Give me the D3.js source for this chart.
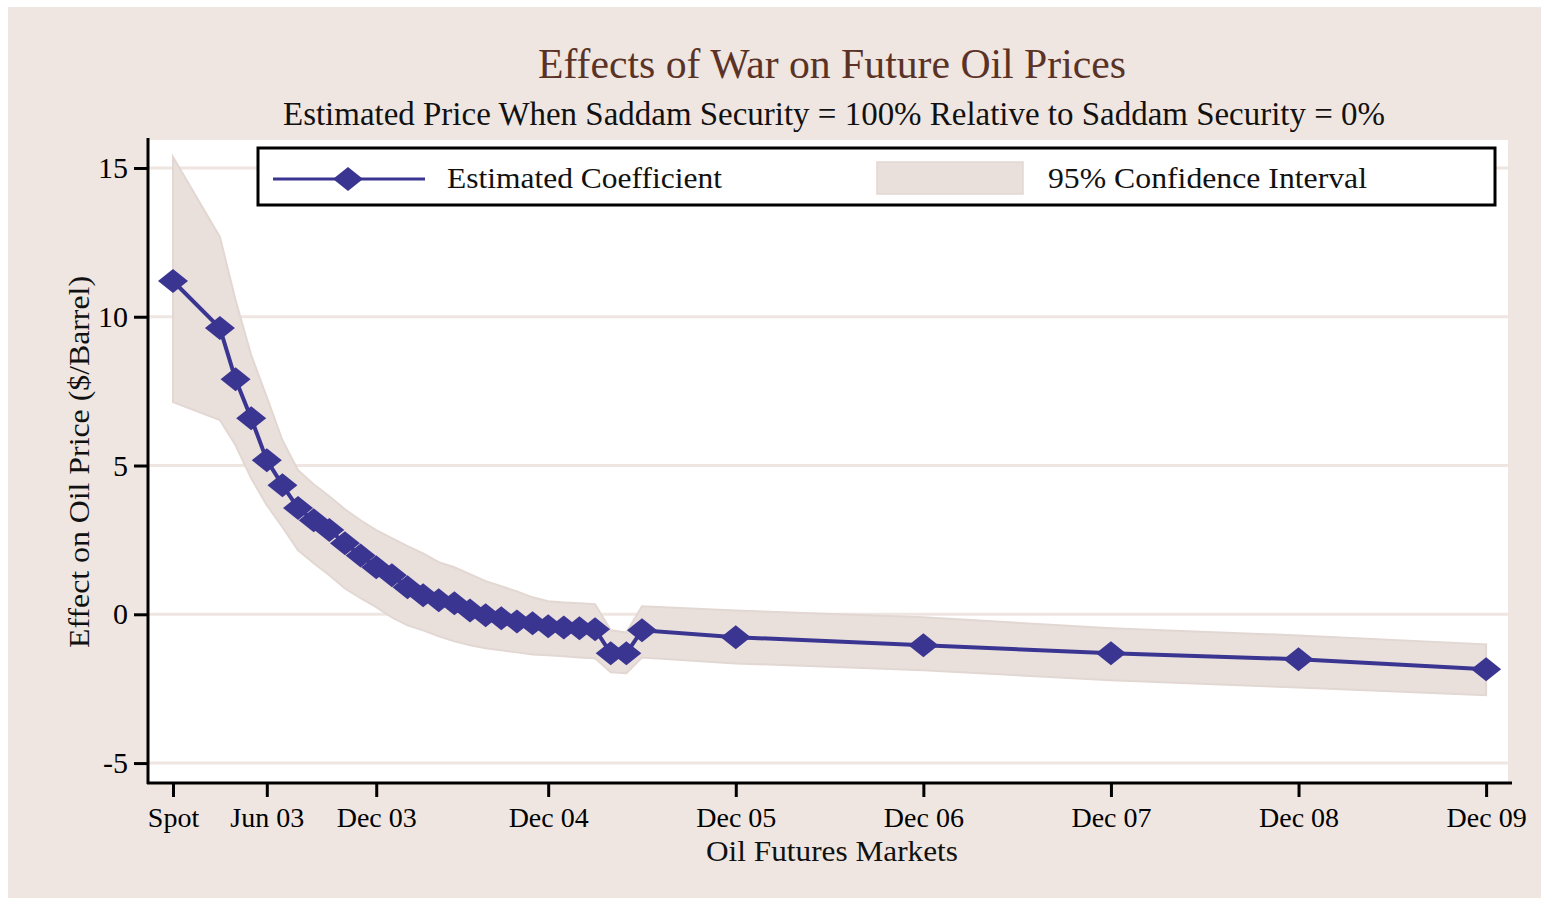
<!DOCTYPE html>
<html>
<head>
<meta charset="utf-8">
<script src="https://cdn.jsdelivr.net/npm/d3@7"></script>
<style>
    body { margin: 0; background: #ffffff; }
    svg { display: block; }
</style>
</head>
<body>
<script>
//self executing function to keep things in local scope
(function(){

//futures contract, in months after spot
var months = [0, 3, 4, 5, 6, 7, 8, 9, 10, 11, 12, 13, 14, 15, 16, 17, 18, 19, 20,
    21, 22, 23, 24, 25, 26, 27, 28, 29, 30, 36, 48, 60, 72, 84];

//estimated coefficient ($/barrel)
var estimate = [11.20, 9.62, 7.90, 6.59, 5.18, 4.34, 3.57, 3.16, 2.83, 2.39, 1.98, 1.58,
    1.31, 0.91, 0.64, 0.47, 0.37, 0.13, -0.03, -0.13, -0.24, -0.30, -0.40, -0.44,
    -0.47, -0.50, -1.31, -1.31, -0.54, -0.77, -1.04, -1.31, -1.51, -1.85];

//95% confidence interval, upper and lower bound
var upper = [15.37, 12.68, 10.56, 8.71, 7.30, 5.85, 4.84, 4.37, 3.97, 3.53, 3.16, 2.83,
    2.56, 2.29, 2.05, 1.75, 1.58, 1.35, 1.11, 0.94, 0.77, 0.57, 0.44, 0.40,
    0.37, 0.34, -0.54, -0.61, 0.27, 0.13, -0.10, -0.47, -0.71, -1.01];
var lower = [7.13, 6.53, 5.68, 4.57, 3.67, 2.93, 2.15, 1.72, 1.31, 0.87, 0.54, 0.24,
    -0.10, -0.37, -0.54, -0.74, -0.91, -1.04, -1.14, -1.21, -1.28, -1.35, -1.38, -1.41,
    -1.45, -1.48, -1.95, -1.98, -1.45, -1.65, -1.88, -2.22, -2.46, -2.72];

//axis ticks
var xTickMonths = [0, 6, 13, 24, 36, 48, 60, 72, 84];
var xTickLabels = ["Spot", "Jun 03", "Dec 03", "Dec 04", "Dec 05", "Dec 06", "Dec 07", "Dec 08", "Dec 09"];
var yTicks = [-5, 0, 5, 10, 15];

var serif = "'Liberation Serif', 'Times New Roman', serif";
var navy = "#3b3592";
var bandFill = "#e9e0dc";
var paper = "#efe6e2";

function setChart(){
    var width = 1541,
        height = 898;

    var svg = d3.select("body")
        .append("svg")
        .attr("width", width)
        .attr("height", height);

    //outer graph region
    svg.append("rect")
        .attr("x", 8)
        .attr("y", 7)
        .attr("width", width - 8)
        .attr("height", height - 7)
        .attr("fill", paper);

    //plot region
    var left = 148, right = 1508, top = 140, bottom = 783;

    svg.append("rect")
        .attr("x", left)
        .attr("y", top)
        .attr("width", right - left)
        .attr("height", bottom - top)
        .attr("fill", "#ffffff");

    var x = d3.scaleLinear()
        .domain([-1.6, 85.4])
        .range([left, right]);

    var y = d3.scaleLinear()
        .domain([-5.67, 15.94])
        .range([bottom, top]);

    //join the arrays into rows
    var rows = months.map(function(m, i){
        return {m: m, est: estimate[i], hi: upper[i], lo: lower[i]};
    });

    //gridlines
    svg.selectAll(".grid")
        .data(yTicks)
        .enter()
        .append("line")
        .attr("class", "grid")
        .attr("x1", left)
        .attr("x2", right)
        .attr("y1", function(d){ return y(d); })
        .attr("y2", function(d){ return y(d); })
        .attr("stroke", paper)
        .attr("stroke-width", 3);

    //confidence band
    var area = d3.area()
        .x(function(d){ return x(d.m); })
        .y0(function(d){ return y(d.lo); })
        .y1(function(d){ return y(d.hi); });

    svg.append("path")
        .datum(rows)
        .attr("d", area)
        .attr("fill", bandFill)
        .attr("stroke", "#e2d7d2")
        .attr("stroke-width", 2);

    //coefficient line
    var line = d3.line()
        .x(function(d){ return x(d.m); })
        .y(function(d){ return y(d.est); });

    svg.append("path")
        .datum(rows)
        .attr("d", line)
        .attr("fill", "none")
        .attr("stroke", navy)
        .attr("stroke-width", 4);

    var diamond = "M0,-12L15,0L0,12L-15,0Z";

    svg.selectAll(".marker")
        .data(rows)
        .enter()
        .append("path")
        .attr("class", "marker")
        .attr("d", diamond)
        .attr("transform", function(d){
            return "translate(" + x(d.m) + "," + y(d.est) + ")";
        })
        .attr("fill", navy);

    //axes
    var yAxis = svg.append("g")
        .attr("transform", "translate(" + left + ",0)")
        .call(d3.axisLeft(y)
            .tickValues(yTicks)
            .tickFormat(function(d){ return String(d); })
            .tickSize(14)
            .tickSizeOuter(0)
            .tickPadding(6));

    var xAxis = svg.append("g")
        .attr("transform", "translate(0," + bottom + ")")
        .call(d3.axisBottom(x)
            .tickValues(xTickMonths)
            .tickFormat(function(d, i){ return xTickLabels[i]; })
            .tickSize(14)
            .tickSizeOuter(0)
            .tickPadding(10));

    xAxis.select(".domain").attr("d", "M" + (left - 1) + ",0H1512");
    yAxis.select(".domain").attr("d", "M0," + (top - 2) + "V" + (bottom + 1));

    [xAxis, yAxis].forEach(function(g){
        g.attr("font-family", serif).attr("font-size", 30);
        g.selectAll("path, line").attr("stroke", "#000").attr("stroke-width", 3);
        g.selectAll("text").attr("fill", "#000");
    });
    xAxis.attr("font-size", 28);

    //legend
    svg.append("rect")
        .attr("x", 258)
        .attr("y", 148)
        .attr("width", 1237)
        .attr("height", 57)
        .attr("fill", "#ffffff")
        .attr("stroke", "#000")
        .attr("stroke-width", 3);

    svg.append("line")
        .attr("x1", 273)
        .attr("x2", 425)
        .attr("y1", 179)
        .attr("y2", 179)
        .attr("stroke", navy)
        .attr("stroke-width", 3);

    svg.append("path")
        .attr("d", diamond)
        .attr("transform", "translate(348,179)")
        .attr("fill", navy);

    svg.append("rect")
        .attr("x", 877)
        .attr("y", 162)
        .attr("width", 146)
        .attr("height", 32)
        .attr("fill", bandFill)
        .attr("stroke", "#e2d7d2")
        .attr("stroke-width", 1.5);

    //texts: [label, x, y, size, anchor, width, colour]
    var texts = [
        ["Effects of War on Future Oil Prices", 832, 78, 42, "middle", 588, "#5b3326"],
        ["Estimated Price When Saddam Security = 100% Relative to Saddam Security = 0%", 834, 125, 34, "middle", 1102, "#111"],
        ["Estimated Coefficient", 447, 188, 30, "start", 275, "#111"],
        ["95% Confidence Interval", 1048, 188, 30, "start", 319, "#111"],
        ["Oil Futures Markets", 832, 861, 29, "middle", 252, "#111"]
    ];

    svg.selectAll(".label")
        .data(texts)
        .enter()
        .append("text")
        .attr("class", "label")
        .attr("x", function(d){ return d[1]; })
        .attr("y", function(d){ return d[2]; })
        .attr("font-size", function(d){ return d[3]; })
        .attr("text-anchor", function(d){ return d[4]; })
        .attr("textLength", function(d){ return d[5]; })
        .attr("lengthAdjust", "spacingAndGlyphs")
        .attr("font-family", serif)
        .attr("fill", function(d){ return d[6]; })
        .text(function(d){ return d[0]; });

    //y axis title
    svg.append("text")
        .attr("transform", "translate(89,462) rotate(-90)")
        .attr("text-anchor", "middle")
        .attr("font-family", serif)
        .attr("font-size", 30)
        .attr("textLength", 372)
        .attr("lengthAdjust", "spacingAndGlyphs")
        .attr("fill", "#111")
        .text("Effect on Oil Price ($/Barrel)");
};

window.onload = setChart();
})();
</script>
</body>
</html>
